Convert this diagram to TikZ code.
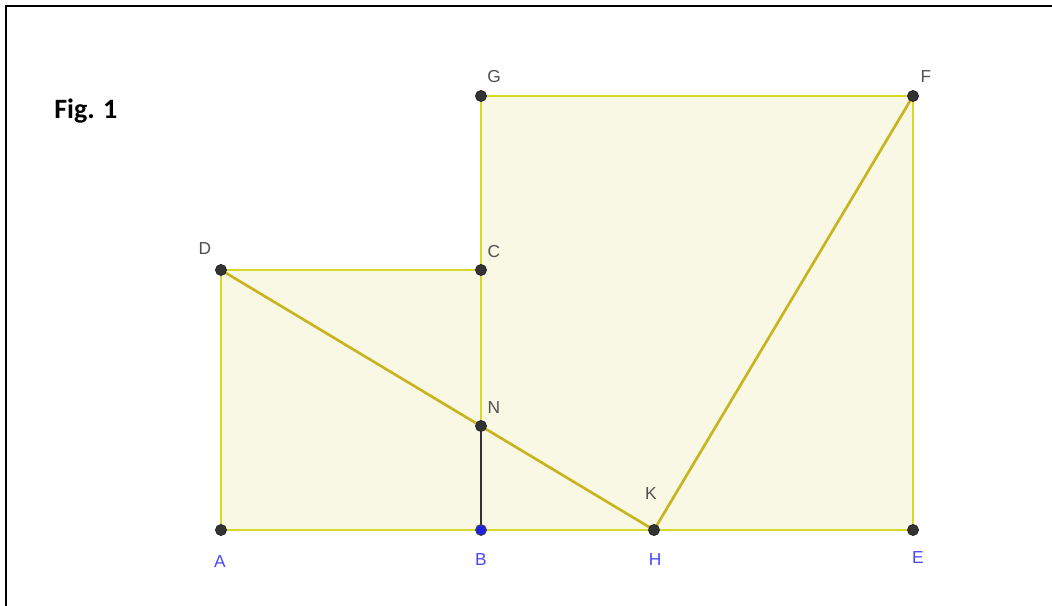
\documentclass[tikz,border=0pt]{standalone}
\usepackage{fontspec}
\setmainfont{Liberation Sans}
\newfontfamily\figfont{Carlito}
\definecolor{fillyel}{HTML}{F9F8E4}
\definecolor{edgeyel}{HTML}{D8D828}
\definecolor{diagyel}{HTML}{C8B41E}
\definecolor{ptgray}{HTML}{333333}
\definecolor{lblgray}{HTML}{505050}
\definecolor{lblblue}{HTML}{4848FF}
\definecolor{ptblue}{HTML}{2020E0}
\tikzset{
  pt/.style={circle, fill=ptgray, draw=black!85, line width=0.6pt, inner sep=0pt, minimum size=8.3pt},
  bpt/.style={circle, fill=ptblue, draw=black!70, line width=0.6pt, inner sep=0pt, minimum size=8.3pt},
  glbl/.style={text=lblgray, font=\fontsize{13}{15}\selectfont, inner sep=0pt},
  blbl/.style={text=lblblue, font=\fontsize{13}{15}\selectfont, inner sep=0pt},
  edge/.style={draw=edgeyel, line width=1.5pt},
  diag/.style={draw=diagyel, line width=2pt},
}
\begin{document}
\begin{tikzpicture}[x=0.75pt,y=-0.75pt]
\useasboundingbox (0,0) rectangle (1052,606);
\fill[white] (0,0) rectangle (1052,606);
% frame
\draw[line width=1.6pt, black] (6,606) -- (6,6) -- (1052,6);
% coordinates
\coordinate (A) at (221,530);
\coordinate (B) at (481,530);
\coordinate (C) at (481,270);
\coordinate (D) at (221,270);
\coordinate (G) at (481,96);
\coordinate (F) at (913,96);
\coordinate (E) at (913,530);
\coordinate (H) at (654,530);
\coordinate (N) at (481,426);
% fills
\fill[fillyel] (A) -- (B) -- (C) -- (D) -- cycle;
\fill[fillyel] (B) -- (E) -- (F) -- (G) -- cycle;
% edges
\draw[edge] (A) -- (B) -- (C) -- (D) -- cycle;
\draw[edge] (B) -- (E) -- (F) -- (G) -- (C);
\draw[diag] (D) -- (H);
\draw[diag] (H) -- (F);
\draw[line width=1.2pt, black!80] (N) -- (B);
% points
\node[pt] (pA) at (A) {};
\node[bpt] (pB) at (B) {};
\node[pt] (pC) at (C) {};
\node[pt] (pD) at (D) {};
\node[pt] (pG) at (G) {};
\node[pt] (pF) at (F) {};
\node[pt] (pE) at (E) {};
\node[pt] (pH) at (H) {};
\node[pt] (pN) at (N) {};
% labels
\node[glbl] (lG) at (494,77) {G};
\node[glbl] (lF) at (926,77) {F};
\node[glbl] (lD) at (205,249) {D};
\node[glbl] (lC) at (494,252) {C};
\node[glbl] (lN) at (494,408) {N};
\node[glbl] (lK) at (651,494) {K};
\node[blbl] (lA) at (220,562) {A};
\node[blbl] (lB) at (481,560) {B};
\node[blbl] (lH) at (655,560) {H};
\node[blbl] (lE) at (918,558) {E};
\node[anchor=west, inner sep=0pt, font=\figfont\bfseries\fontsize{21}{24}\selectfont] (fig) at (54,111) {Fig. 1};
\end{tikzpicture}
\end{document}
